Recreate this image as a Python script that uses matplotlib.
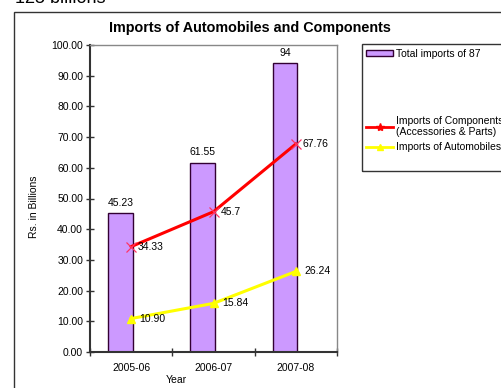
import matplotlib.pyplot as plt
from matplotlib.lines import Line2D
from matplotlib.patches import Patch, Rectangle

plt.rcParams['font.family'] = ['Liberation Sans', 'DejaVu Sans']

# data
years = ['2005-06', '2006-07', '2007-08']
total_imports = [45.23, 61.55, 94]
total_labels = ['45.23', '61.55', '94']
components = [34.33, 45.7, 67.76]
comp_labels = ['34.33', '45.7', '67.76']
automobiles = [10.90, 15.84, 26.24]
auto_labels = ['10.90', '15.84', '26.24']

fig = plt.figure(figsize=(5.02, 3.88), dpi=100)
W, H = 502.0, 388.0

# outer chart border
fig.patches.append(Rectangle((14 / W, -0.1), 1.2, (388 - 12) / H + 0.1,
                             transform=fig.transFigure, fill=False,
                             edgecolor='#333333', linewidth=1.0))
fig.text(15 / W, 0.993, '125 billions', fontsize=13, va='baseline', ha='left')

ax = fig.add_axes([90 / W, 36 / H, 247 / W, 307 / H])
x = list(range(len(years)))

# bars
bar_x = [i - 0.13 for i in x]
ax.bar(bar_x, total_imports, width=0.3, color='#CC99FF', edgecolor='#330033',
       linewidth=1.0, zorder=2)
for bx, v, lab in zip(bar_x, total_imports, total_labels):
    ax.annotate(lab, (bx, v), xytext=(0, 4), textcoords='offset points',
                ha='center', va='bottom', fontsize=7.5)

# lines
ax.plot(x, components, color='#FF0000', linewidth=2.2, zorder=3)
ax.plot(x, components, linestyle='none', marker='x', markersize=7,
        markeredgecolor='#FF3366', markeredgewidth=0.9, zorder=4)
ax.plot(x, automobiles, color='#FFFF00', linewidth=2.2, marker='^',
        markersize=6, markerfacecolor='#FFFF00', markeredgecolor='#FFFF00', zorder=3)
for xi, v, lab in zip(x, components, comp_labels):
    ax.annotate(lab, (xi, v), xytext=(5, 0), textcoords='offset points',
                ha='left', va='center', fontsize=7.5)
for xi, v, lab in zip(x, automobiles, auto_labels):
    ax.annotate(lab, (xi, v), xytext=(6, 0), textcoords='offset points',
                ha='left', va='center', fontsize=7.5)

ax.set_xlim(-0.5, 2.5)
ax.set_ylim(0, 100)
ax.set_yticks(range(0, 101, 10))
ax.set_yticklabels(['%.2f' % t for t in range(0, 101, 10)], fontsize=7.5)
ax.set_xticks([-0.5, 0.5, 1.5, 2.5])
ax.set_xticklabels([])
ax.set_xticks(x, minor=True)
ax.set_xticklabels(years, minor=True, fontsize=7.5)
ax.tick_params(axis='x', which='minor', length=0, pad=8)
ax.tick_params(axis='both', which='major', direction='inout', length=6,
               width=1.0, color='#333333')
ax.tick_params(axis='y', pad=2)

for s in ['left', 'bottom']:
    ax.spines[s].set_color('#333333')
    ax.spines[s].set_linewidth(1.5)
for s in ['top', 'right']:
    ax.spines[s].set_color('#888888')
    ax.spines[s].set_linewidth(1.0)

ax.set_xlabel('Year', fontsize=7.5)
ax.xaxis.set_label_coords(0.35, -0.075)
ax.set_ylabel('Rs. in Billions', fontsize=7.5)
ax.yaxis.set_label_coords(-0.205, 0.472)

fig.text(250 / W, (388 - 28) / H, 'Imports of Automobiles and Components',
         ha='center', va='center', fontsize=10.4, fontweight='bold')

# legend box
fig.patches.append(Rectangle((362 / W, (388 - 171) / H), 0.5, 127 / H,
                             transform=fig.transFigure, fill=False,
                             edgecolor='#333333', linewidth=1.0))
leg1 = fig.legend(handles=[Patch(facecolor='#CC99FF', edgecolor='#330033')],
                  labels=['Total imports of 87'], loc='center left',
                  bbox_to_anchor=(364 / W, (388 - 54) / H), frameon=False,
                  fontsize=7.5, handlelength=2.6, handleheight=0.5,
                  handletextpad=0.3, borderaxespad=0, borderpad=0.2)
leg2 = fig.legend(handles=[Line2D([], [], color='#FF0000', linewidth=2, marker='*',
                                  markersize=6),
                           Line2D([], [], color='#FFFF00', linewidth=2, marker='^',
                                  markersize=5)],
                  labels=['Imports of Components\n(Accessories & Parts)',
                          'Imports of Automobiles'],
                  loc='center left', bbox_to_anchor=(364 / W, (388 - 134) / H),
                  frameon=False, fontsize=7.5, handlelength=2.6,
                  handletextpad=0.3, labelspacing=0.5, borderaxespad=0,
                  borderpad=0.2)

fig.savefig('out.png', dpi=100)
